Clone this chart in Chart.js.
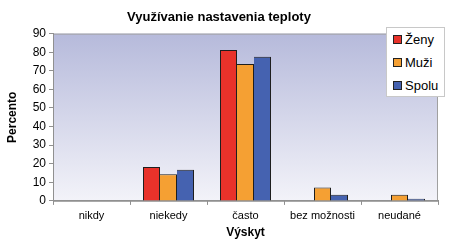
<!DOCTYPE html>
<html>
<head>
<meta charset="utf-8">
<script src="https://cdn.jsdelivr.net/npm/chart.js@4/dist/chart.umd.min.js"></script>
<style>
	html, body { margin: 0; padding: 0; background: #fff; }
	#wrap { position: relative; width: 458px; height: 241px; }
	#legend {
		position: absolute; left: 386px; top: 27px; width: 59px; height: 70px;
		background: #fff; border: 1px solid #c8c8c8; box-sizing: border-box;
		font: 13px "Liberation Sans", Arial, sans-serif; color: #000;
		padding: 2px 0 0 6px;
	}
	#legend .item { height: 23px; line-height: 20px; white-space: nowrap; }
	#legend .sw {
		display: inline-block; width: 7px; height: 7px; border: 1px solid #222;
		margin-right: 3px; vertical-align: 0px;
	}
</style>
</head>
<body>
<div id="wrap">
	<canvas id="chart" width="458" height="241"></canvas>
	<div id="legend"></div>
</div>
<script>
// data
const categories = ["nikdy", "niekedy", "často", "bez možnosti", "neudané"];
const zeny = [0, 18.2, 81.2, 0, 0];
const muzi = [0, 14.3, 73.6, 7.2, 3.3];
const spolu = [0, 16.8, 77.6, 3.3, 1.2];
const yTicks = [0, 10, 20, 30, 40, 50, 60, 70, 80, 90];

const palette = {
	zeny: "#e8322a",
	muzi: "#f5a033",
	spolu: "#4562b0",
	edge: "#1e1e1e"
};

const fontFamily = '"Liberation Sans", Arial, sans-serif';

const plotBackground = {
	id: "plotBackground",
	beforeDraw(chart) {
		const { ctx, chartArea: a } = chart;
		const g = ctx.createLinearGradient(0, a.top, 0, a.bottom);
		g.addColorStop(0, "#b6badb");
		g.addColorStop(1, "#f3f3f9");
		ctx.save();
		ctx.fillStyle = g;
		ctx.fillRect(a.left, a.top, a.right - a.left, a.bottom - a.top);
		ctx.strokeStyle = "#a0a0a0";
		ctx.lineWidth = 1;
		ctx.strokeRect(a.left + 0.5, a.top + 0.5, a.right - a.left - 1, a.bottom - a.top);
		ctx.restore();
	}
};

// share the divider line with the bar on the left when there is one
function makeSet(label, data, color, leftNeighbour) {
	return {
		label,
		data,
		backgroundColor: color,
		borderColor: palette.edge,
		borderWidth: (ctx) => {
			const shared = leftNeighbour && leftNeighbour[ctx.dataIndex] > 0;
			return { top: 1, right: 1, bottom: 0, left: shared ? 0 : 1 };
		},
		borderSkipped: "bottom",
		inflateAmount: 0,
		barPercentage: 1,
		categoryPercentage: 51 / 77
	};
}

const chart = new Chart(document.getElementById("chart"), {
	type: "bar",
	data: {
		labels: categories,
		datasets: [
			makeSet("Ženy", zeny, palette.zeny, null),
			makeSet("Muži", muzi, palette.muzi, zeny),
			makeSet("Spolu", spolu, palette.spolu, muzi)
		]
	},
	options: {
		responsive: false,
		animation: false,
		devicePixelRatio: 1,
		layout: { padding: { left: 0, right: 20, top: 0, bottom: 0 } },
		plugins: {
			legend: { display: false },
			tooltip: { enabled: false },
			title: {
				display: true,
				text: "Využívanie nastavenia teploty",
				color: "#000",
				font: { family: fontFamily, size: 13, weight: "bold" },
				padding: { top: 10, bottom: 8 }
			}
		},
		scales: {
			x: {
				offset: true,
				grid: { display: true, drawOnChartArea: false, offset: true, tickLength: 4, color: "#909090" },
				border: { color: "#909090" },
				ticks: { color: "#000", font: { family: fontFamily, size: 11, lineHeight: 1.1 }, padding: 5 },
				title: {
					display: true,
					text: "Výskyt",
					color: "#000",
					font: { family: fontFamily, size: 12, weight: "bold", lineHeight: 1 },
					padding: { top: 0, bottom: 2 }
				}
			},
			y: {
				min: 0,
				max: 90,
				afterBuildTicks(axis) {
					axis.ticks = yTicks.map((v) => ({ value: v }));
				},
				afterFit(axis) {
					axis.width = 53;
				},
				grid: { display: true, drawOnChartArea: false, tickLength: 4, color: "#909090" },
				border: { color: "#909090" },
				ticks: { color: "#000", font: { family: fontFamily, size: 12 }, padding: 3 },
				title: {
					display: true,
					text: "Percento",
					color: "#000",
					font: { family: fontFamily, size: 12, weight: "bold" },
					padding: { top: 5, bottom: 0 }
				}
			}
		}
	},
	plugins: [plotBackground]
});

// legend box
const legend = document.getElementById("legend");
chart.data.datasets.forEach((ds) => {
	const item = document.createElement("div");
	item.className = "item";
	item.innerHTML = `<span class="sw" style="background:${ds.backgroundColor}"></span>${ds.label}`;
	legend.appendChild(item);
});
</script>
</body>
</html>
